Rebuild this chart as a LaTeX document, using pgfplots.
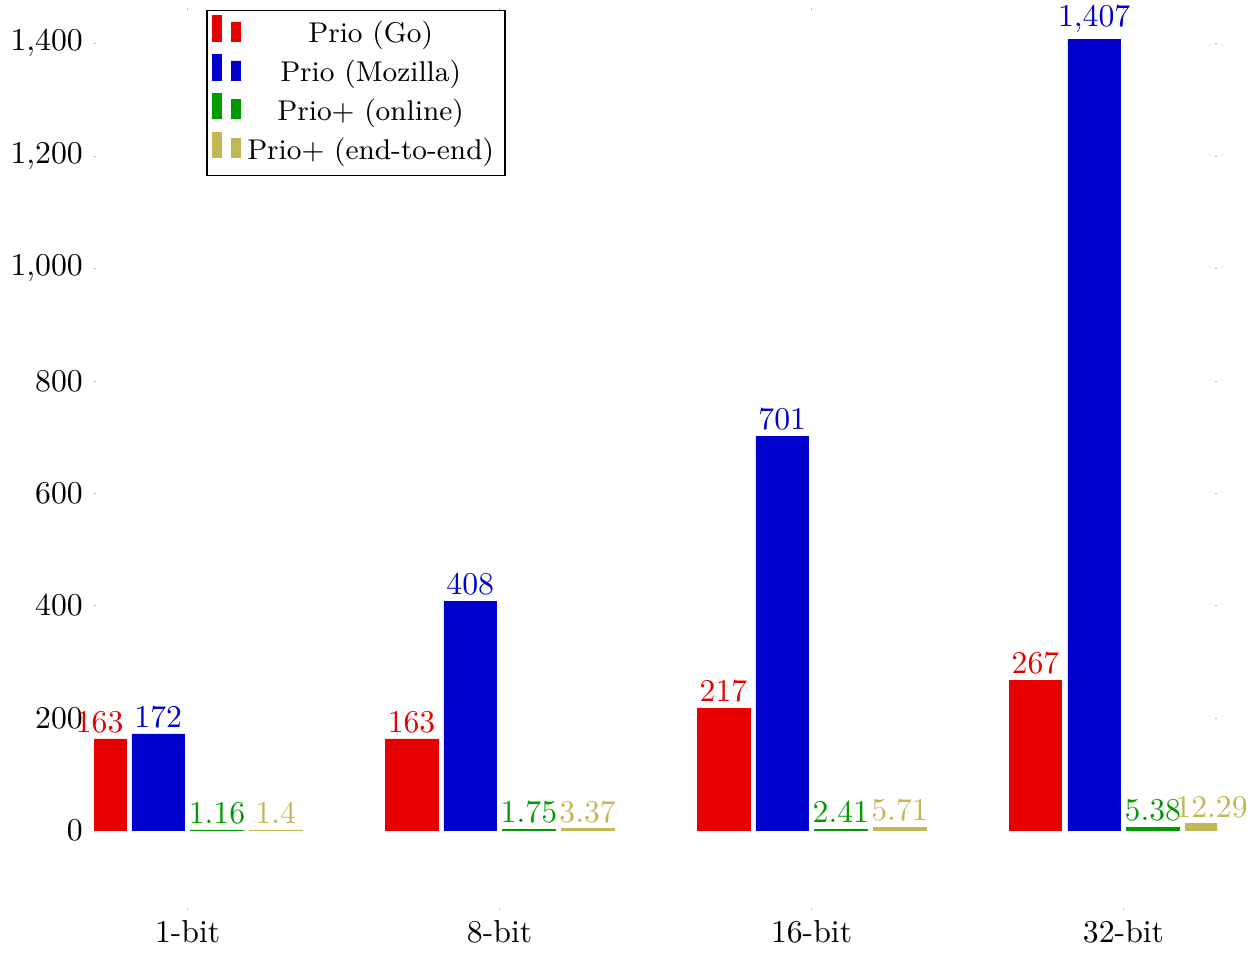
\documentclass[border=0pt]{standalone}
\usepackage{pgfplots}
\pgfplotsset{compat=1.18}
\definecolor{cred}{RGB}{230,0,0}
\definecolor{cblue}{RGB}{0,0,205}
\definecolor{cgreen}{RGB}{0,155,0}
\definecolor{cgold}{RGB}{195,183,85}
\begin{document}
\begin{tikzpicture}
\begin{axis}[
  scale only axis,
  width=354pt, height=283pt,
  ybar=1.9pt, bar width=16.6pt,
  xmin=-0.3, xmax=3.3,
  ymin=-137, ymax=1460,
  xtick={0,1,2,3},
  xticklabels={1-bit,8-bit,16-bit,32-bit},
  ytick={0,200,400,600,800,1000,1200,1400},
  axis line style={draw=none},
  major tick length=0.6pt,
  tick style={gray!60},
  nodes near coords,
  every node near coord/.append style={font=\normalsize, inner sep=2pt},
  legend style={at={(0.1,1)}, anchor=north west, draw=black, thin, font=\small, row sep=0pt, inner sep=1.5pt},
  legend cell align=center,
]
\addplot[fill=cred, draw=cred, line width=0.2pt, nodes near coords style={text=cred}] coordinates {(0,163) (1,163) (2,217) (3,267)};
\addplot[fill=cblue, draw=cblue, line width=0.2pt, nodes near coords style={text=cblue}] coordinates {(0,172) (1,408) (2,701) (3,1407)};
\addplot[fill=cgreen, draw=cgreen, line width=0.2pt, nodes near coords style={text=cgreen}] coordinates {(0,1.16) (1,1.75) (2,2.41) (3,5.38)};
\addplot[fill=cgold, draw=cgold, line width=0.2pt, nodes near coords style={text=cgold}] coordinates {(0,1.4) (1,3.37) (2,5.71) (3,12.29)};
\legend{Prio (Go),Prio (Mozilla),Prio+ (online),Prio+ (end-to-end)}
\end{axis}
\end{tikzpicture}
\end{document}
